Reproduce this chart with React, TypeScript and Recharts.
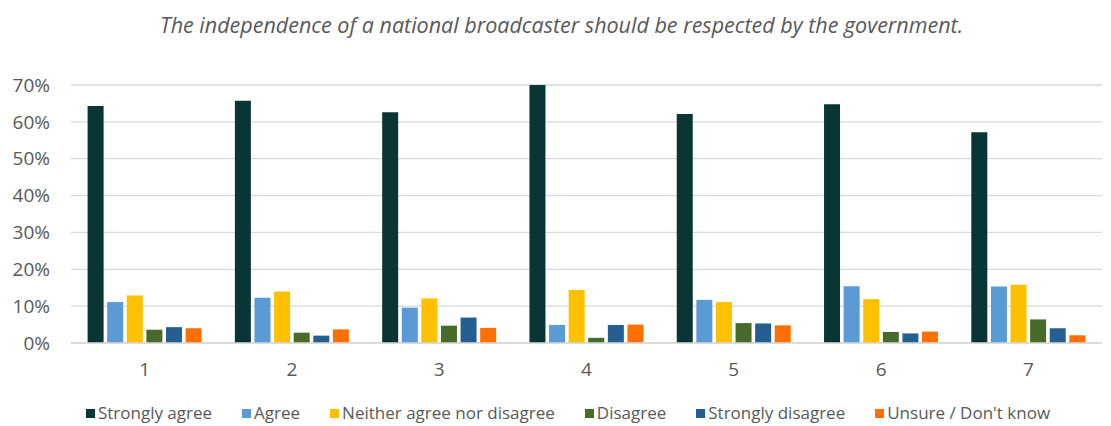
import { Bar, BarChart, CartesianGrid, Legend, XAxis, YAxis } from 'recharts'

const categories = ['1', '2', '3', '4', '5', '6', '7']

const stronglyAgree = [64.3, 65.7, 62.6, 70.0, 62.1, 64.8, 57.2]
const agree = [11.1, 12.3, 9.6, 4.9, 11.7, 15.4, 15.3]
const neither = [12.9, 14.0, 12.1, 14.4, 11.1, 11.9, 15.8]
const disagree = [3.6, 2.8, 4.7, 1.4, 5.4, 3.0, 6.4]
const stronglyDisagree = [4.3, 2.0, 6.9, 4.9, 5.3, 2.6, 4.0]
const unsure = [4.0, 3.7, 4.1, 5.0, 4.8, 3.1, 2.1]

const yTicks = [0, 10, 20, 30, 40, 50, 60, 70]

const series = [
  { key: 'sa', name: 'Strongly agree', color: '#093535', values: stronglyAgree },
  { key: 'a', name: 'Agree', color: '#5b9bd5', values: agree },
  { key: 'n', name: 'Neither agree nor disagree', color: '#ffc000', values: neither },
  { key: 'd', name: 'Disagree', color: '#476b2b', values: disagree },
  { key: 'sd', name: 'Strongly disagree', color: '#255e91', values: stronglyDisagree },
  { key: 'u', name: "Unsure / Don't know", color: '#ff7000', values: unsure },
]

const data = categories.map((c, i) => {
  const row: Record<string, string | number> = { cat: c }
  series.forEach((s) => {
    row[s.key] = s.values[i]
  })
  return row
})

const font = '"Open Sans", sans-serif'
const textColor = '#595959'

const LegendContent = () => (
  <div
    style={{
      display: 'flex',
      justifyContent: 'center',
      paddingLeft: 25,
      fontFamily: font,
      fontSize: 17,
      color: textColor,
      lineHeight: '20px',
      whiteSpace: 'nowrap',
    }}
  >
    {series.map((s, i) => (
      <div key={s.key} style={{ display: 'flex', alignItems: 'center', marginLeft: i === 0 ? 0 : 30 }}>
        <span style={{ width: 9, height: 9, background: s.color, marginRight: 3, display: 'inline-block' }} />
        <span>{s.name}</span>
      </div>
    ))}
  </div>
)

export default function App() {
  return (
    <div style={{ position: 'absolute', left: 0, top: 0, width: 1111, height: 426, background: '#fff' }}>
      <div
        style={{
          position: 'absolute',
          top: 11,
          left: 0,
          width: 1111,
          paddingLeft: 12,
          boxSizing: 'border-box',
          textAlign: 'center',
          fontFamily: font,
          fontStyle: 'italic',
          fontSize: 21.5,
          lineHeight: '28px',
          color: textColor,
        }}
      >
        The independence of a national broadcaster should be respected by the government.
      </div>
      <BarChart
        width={1111}
        height={426}
        data={data}
        margin={{ top: 85, right: 9, left: 0, bottom: 53 }}
        barCategoryGap={16.6}
        barGap={3.6}
      >
        <CartesianGrid vertical={false} stroke="#d9d9d9" strokeWidth={1.3} />
        <XAxis
          dataKey="cat"
          height={30}
          tickLine={false}
          tickSize={0}
          tickMargin={20}
          axisLine={{ stroke: '#d9d9d9', strokeWidth: 1.3 }}
          tick={{ fill: textColor, fontSize: 19, fontFamily: font }}
        />
        <YAxis
          width={71}
          domain={[0, 70]}
          ticks={yTicks}
          axisLine={false}
          tickLine={false}
          tickSize={0}
          tickMargin={21}
          tickFormatter={(v) => `${v}%`}
          tick={{ fill: textColor, fontSize: 19, fontFamily: font }}
        />
        <Legend
          verticalAlign="middle"
          layout="horizontal"
          align="center"
          content={<LegendContent />}
          wrapperStyle={{ top: 403, left: 0, width: 1111 }}
        />
        {series.map((s) => (
          <Bar key={s.key} dataKey={s.key} name={s.name} fill={s.color} isAnimationActive={false} />
        ))}
      </BarChart>
    </div>
  )
}
